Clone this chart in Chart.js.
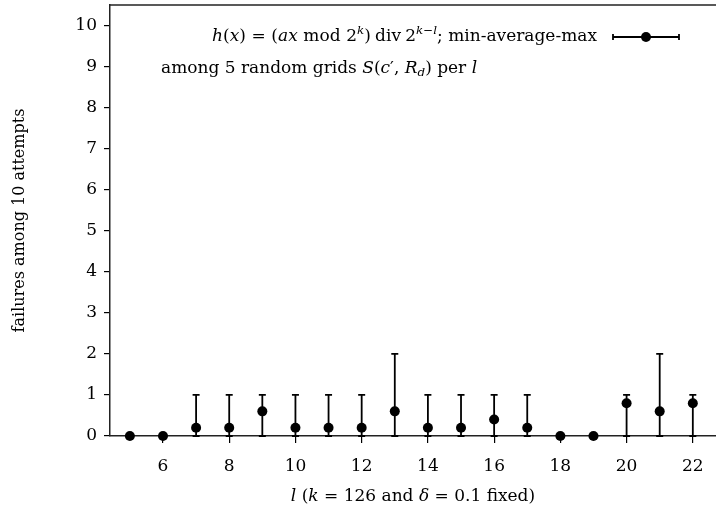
<!DOCTYPE html>
<html>
<head>
<meta charset="utf-8">
<script src="https://cdn.jsdelivr.net/npm/chart.js@4.4.1/dist/chart.umd.min.js"></script>
<style>
  html, body { margin: 0; padding: 0; background: #fff; }
  #wrap { position: relative; width: 716px; height: 515px; }
</style>
</head>
<body>
<div id="wrap"><canvas id="c" width="716" height="515"></canvas></div>
<script>
// ---- data ----
const ls      = [5, 6, 7, 8, 9, 10, 11, 12, 13, 14, 15, 16, 17, 18, 19, 20, 21, 22];
const avgs    = [0, 0, 0.2, 0.2, 0.6, 0.2, 0.2, 0.2, 0.6, 0.2, 0.2, 0.4, 0.2, 0, 0, 0.8, 0.6, 0.8];
const mins    = [0, 0, 0, 0, 0, 0, 0, 0, 0, 0, 0, 0, 0, 0, 0, 0, 0, 0];
const maxs    = [0, 0, 1, 1, 1, 1, 1, 1, 2, 1, 1, 1, 1, 0, 0, 1, 2, 1];
const xTicks  = [6, 8, 10, 12, 14, 16, 18, 20, 22];
const yTicks  = [0, 1, 2, 3, 4, 5, 6, 7, 8, 9, 10];

const FONT = '"DejaVu Serif", "Liberation Serif", serif';
const FS = 17;

function font(style, size) { return (style === 'i' ? 'italic ' : '') + size + 'px ' + FONT; }

// rich text: segments [text, style('r'|'i'), pos('n'|'sup'|'sub')]
function richWidth(ctx, segs, size) {
  let w = 0;
  for (const s of segs) {
    const sz = s[2] && s[2] !== 'n' ? size * 0.7 : size;
    ctx.font = font(s[1], sz);
    w += ctx.measureText(s[0]).width;
  }
  return w;
}
function drawRich(ctx, segs, x, y, size, align) {
  let w = richWidth(ctx, segs, size);
  let cx = align === 'right' ? x - w : align === 'center' ? x - w / 2 : x;
  ctx.textBaseline = 'middle';
  ctx.textAlign = 'left';
  ctx.fillStyle = '#000';
  for (const s of segs) {
    const pos = s[2] || 'n';
    const sz = pos !== 'n' ? size * 0.7 : size;
    ctx.font = font(s[1], sz);
    const dy = pos === 'sup' ? -size * 0.38 : pos === 'sub' ? size * 0.25 : 0;
    ctx.fillText(s[0], cx, y + dy);
    cx += ctx.measureText(s[0]).width;
  }
}

const legend1 = [['h','i'],['(','r'],['x','i'],[')\u2004=\u2004(','r'],['ax','i'],['\u2004mod\u20042','r'],['k','i','sup'],[')\u2005div\u20052','r'],['k','i','sup'],['\u2212','r','sup'],['l','i','sup'],['; min-average-max','r']];
const legend2 = [['among 5 random grids ','r'],['S','i'],['(','r'],['c','i'],['\u2032','r'],[', ','r'],['R','i'],['d','i','sub'],[') per ','r'],['l','i']];
const xTitle  = [['l','i'],[' (','r'],['k','i'],[' = 126 and ','r'],['\u03b4','i'],[' = 0.1 fixed)','r']];
const yTitle  = [['failures among 10 attempts','r']];

const extras = {
  id: 'extras',
  beforeDatasetsDraw(chart) {
    const ctx = chart.ctx, xs = chart.scales.x, ys = chart.scales.y;
    ctx.save();
    ctx.strokeStyle = '#000';
    ctx.lineWidth = 1.8;
    const cap = 3.5;
    for (let i = 0; i < ls.length; i++) {
      if (maxs[i] === mins[i]) continue;
      const px = xs.getPixelForValue(ls[i]);
      const y1 = ys.getPixelForValue(mins[i]);
      const y2 = ys.getPixelForValue(maxs[i]);
      ctx.beginPath();
      ctx.moveTo(px, y1); ctx.lineTo(px, y2);
      ctx.moveTo(px - cap, y2); ctx.lineTo(px + cap, y2);
      ctx.moveTo(px - cap, y1); ctx.lineTo(px + cap, y1);
      ctx.stroke();
    }
    ctx.restore();
  },
  afterDraw(chart) {
    const ctx = chart.ctx, a = chart.chartArea;
    ctx.save();
    // top border
    ctx.strokeStyle = '#222';
    ctx.lineWidth = 1.5;
    ctx.beginPath();
    ctx.moveTo(a.left, a.top); ctx.lineTo(a.right, a.top);
    ctx.stroke();
    // legend
    drawRich(ctx, legend1, 597, 37, FS, 'right');
    ctx.strokeStyle = '#000';
    ctx.lineWidth = 1.8;
    ctx.beginPath();
    ctx.moveTo(613, 37); ctx.lineTo(679, 37);
    ctx.moveTo(613, 34); ctx.lineTo(613, 40);
    ctx.moveTo(679, 34); ctx.lineTo(679, 40);
    ctx.stroke();
    ctx.fillStyle = '#000';
    ctx.beginPath(); ctx.arc(646, 37, 5, 0, Math.PI * 2); ctx.fill();
    drawRich(ctx, legend2, 161, 69, FS, 'left');
    // axis titles
    drawRich(ctx, xTitle, (a.left + a.right) / 2, 497, FS, 'center');
    ctx.translate(20, (a.top + a.bottom) / 2);
    ctx.rotate(-Math.PI / 2);
    drawRich(ctx, yTitle, 0, 0, 16, 'center');
    ctx.restore();
  }
};

const points = ls.map((l, i) => ({ x: l, y: avgs[i] }));

new Chart(document.getElementById('c'), {
  type: 'scatter',
  data: {
    datasets: [{
      label: 'min-average-max',
      data: points,
      pointRadius: 5,
      pointHoverRadius: 5,
      pointBackgroundColor: '#000',
      pointBorderColor: '#000',
      borderWidth: 0,
      clip: false
    }]
  },
  options: {
    responsive: false,
    animation: false,
    events: [],
    layout: { autoPadding: false, padding: { top: 5, left: 0, right: 0, bottom: 0 } },
    plugins: { legend: { display: false }, tooltip: { enabled: false }, title: { display: false } },
    scales: {
      x: {
        type: 'linear',
        min: 4.4, max: 22.7,
        afterBuildTicks: s => { s.ticks = xTicks.map(v => ({ value: v })); },
        afterFit: s => { s.height = 79; s.paddingLeft = 0; s.paddingRight = 0; },
        ticks: { color: '#000', font: { family: FONT, size: FS }, padding: 13, maxRotation: 0, autoSkip: false },
        grid: { drawOnChartArea: false, drawTicks: true, tickLength: 7, color: '#000', lineWidth: 1.2 },
        border: { display: true, color: '#222', width: 1.5 }
      },
      y: {
        type: 'linear',
        min: 0, max: 10.5,
        afterBuildTicks: s => { s.ticks = yTicks.map(v => ({ value: v })); },
        afterFit: s => { s.width = 110; s.paddingTop = 0; s.paddingBottom = 0; },
        ticks: { color: '#000', font: { family: FONT, size: FS }, padding: 7, autoSkip: false },
        grid: { drawOnChartArea: false, drawTicks: true, tickLength: 6, color: '#000', lineWidth: 1.2 },
        border: { display: true, color: '#222', width: 1.5 }
      }
    }
  },
  plugins: [extras]
});
</script>
</body>
</html>
